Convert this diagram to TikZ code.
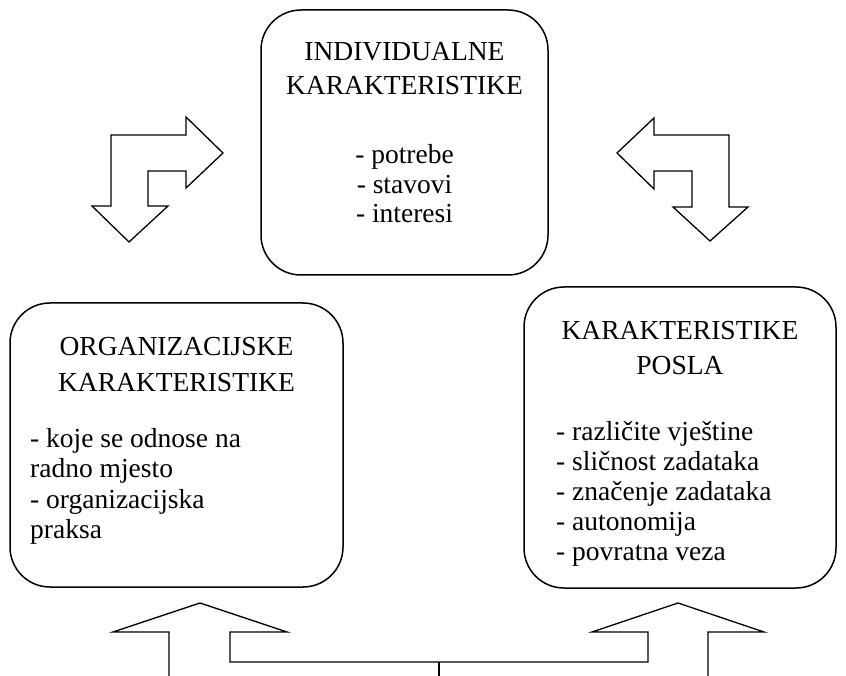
\documentclass[tikz,border=0pt]{standalone}
\usepackage{fontspec}
\setmainfont{Liberation Serif}
\begin{document}
\begin{tikzpicture}[x=1pt,y=-1pt,
  box/.style={draw,line width=1.5pt,rounded corners=40pt,inner sep=0pt},
  txt/.style={inner sep=0pt,font=\fontsize{27.5}{32}\selectfont},
  blockarrow/.style={draw,line width=1.3pt,line join=miter}]
\useasboundingbox (0,0) rectangle (846,676);
% boxes
\node[box,minimum width=287pt,minimum height=265pt] (ind) at (404.5,142.5) {};
\node[box,minimum width=333pt,minimum height=284pt] (org) at (176.5,445) {};
\node[box,minimum width=312pt,minimum height=301pt] (pos) at (680,437.5) {};
% top box text
\node[txt,anchor=base] (t1) at (404.5,61) {INDIVIDUALNE};
\node[txt,anchor=base] (t2) at (404.5,95) {KARAKTERISTIKE};
\node[txt,anchor=base] (t3) at (404.5,164) {- potrebe};
\node[txt,anchor=base] (t4) at (404.5,194) {- stavovi};
\node[txt,anchor=base] (t5) at (404.5,223) {- interesi};
% left box text
\node[txt,anchor=base] (o1) at (176.5,355) {ORGANIZACIJSKE};
\node[txt,anchor=base] (o2) at (176.5,391) {KARAKTERISTIKE};
\node[txt,anchor=base west] (o3) at (30,447) {- koje se odnose na};
\node[txt,anchor=base west] (o4) at (30,477) {radno mjesto};
\node[txt,anchor=base west] (o5) at (30,508) {- organizacijska};
\node[txt,anchor=base west] (o6) at (30,538) {praksa};
% right box text
\node[txt,anchor=base] (p1) at (680,339) {KARAKTERISTIKE};
\node[txt,anchor=base] (p2) at (680,374) {POSLA};
\node[txt,anchor=base west] (p3) at (556,440) {- različite vještine};
\node[txt,anchor=base west] (p4) at (556,470) {- sličnost zadataka};
\node[txt,anchor=base west] (p5) at (556,500) {- značenje zadataka};
\node[txt,anchor=base west] (p6) at (556,530) {- autonomija};
\node[txt,anchor=base west] (p7) at (556,560) {- povratna veza};
% top-left bent arrow
\draw[blockarrow] (111,135) -- (186,135) -- (186,117) -- (223,153) -- (186,188) -- (186,171)
  -- (148,171) -- (148,206) -- (168,206) -- (129,242) -- (92,206) -- (111,206) -- cycle;
% top-right bent arrow
\draw[blockarrow] (654,118) -- (617,153) -- (654,189) -- (654,171) -- (692,171) -- (692,207)
  -- (673,207) -- (710,241) -- (748,207) -- (729,207) -- (729,135) -- (654,135) -- cycle;
% bottom double arrow
\coordinate (bl) at (169,676);
\coordinate (br) at (708,676);
\coordinate (bs) at (439,676);
\draw[blockarrow] (bl) -- (169,632) -- (113,632) -- (200,603) -- (287,632) -- (230,632)
  -- (230,662) -- (648,662) -- (648,632) -- (592,632) -- (678,603) -- (764,632) -- (708,632) -- (br);
\draw[blockarrow] (439,662) -- (bs);
\end{tikzpicture}
\end{document}
